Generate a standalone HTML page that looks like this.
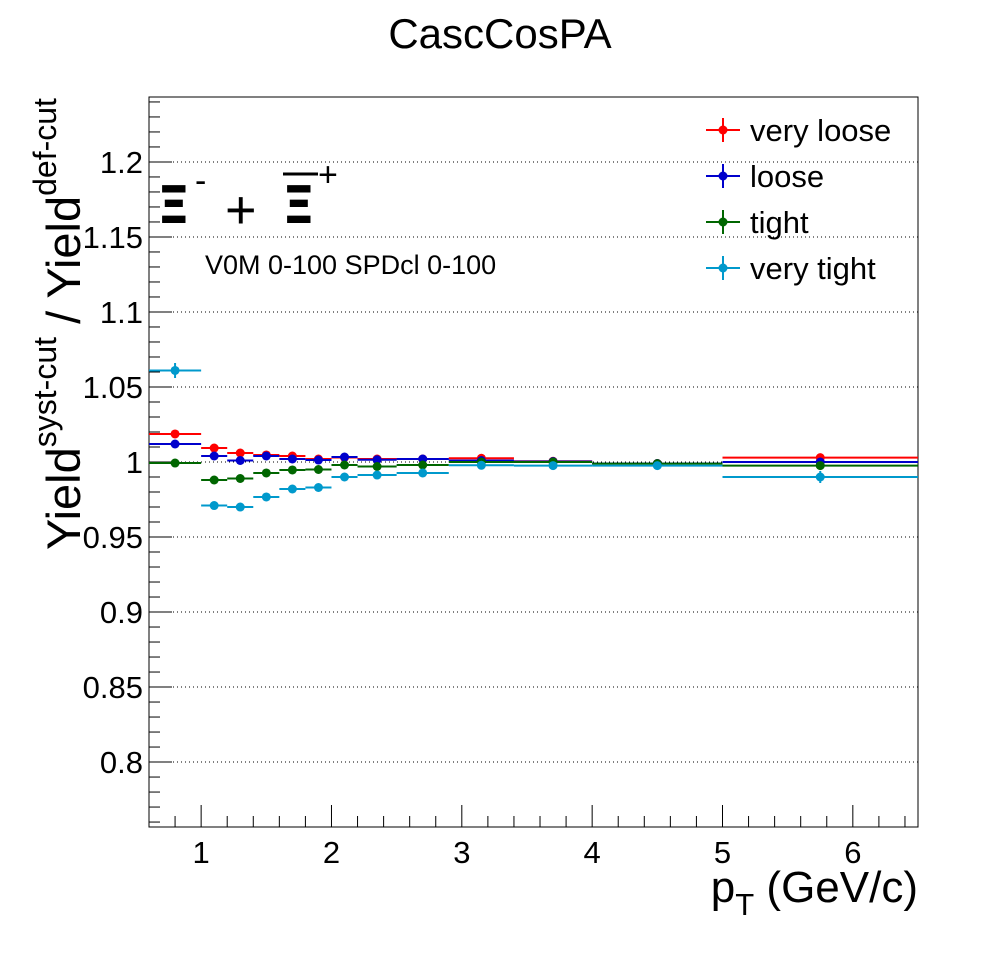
<!DOCTYPE html>
<html><head><meta charset="utf-8"><style>
body{margin:0;background:#fff;}
svg{display:block;font-family:"Liberation Sans",sans-serif;}
</style></head><body>
<svg id="chart" width="998" height="973" viewBox="0 0 998 973">
<rect width="998" height="973" fill="#fff"/>
<text x="500" y="48" font-size="42" text-anchor="middle">CascCosPA</text>
<g id="grid"></g>
<g id="axes"></g>
<g id="marks"></g>
<g transform="translate(80,550) rotate(-90)">
<text x="0" y="0" font-size="47">Yield<tspan font-size="32" dy="-24">syst-cut</tspan><tspan dy="24" font-size="47"> / Yield</tspan><tspan font-size="32" dy="-24">def-cut</tspan></text>
</g>
<text x="918" y="902" font-size="44" text-anchor="end">p<tspan font-size="31" dy="13">T</tspan><tspan dy="-13"> (GeV/c)</tspan></text>
<g font-family="'DejaVu Sans',sans-serif">
<text x="157" y="223" font-size="52" font-weight="bold">Ξ</text>
<text x="195" y="192" font-size="34" font-family="'Liberation Sans',sans-serif">-</text>
<text x="225" y="228" font-size="54" font-family="'Liberation Sans',sans-serif">+</text>
<line x1="283" y1="174" x2="318" y2="174" stroke="#000" stroke-width="3"/>
<text x="282" y="223" font-size="52" font-weight="bold">Ξ</text>
<text x="318" y="186" font-size="34" font-family="'Liberation Sans',sans-serif">+</text>
</g>
<text x="205" y="274" font-size="27">V0M 0-100 SPDcl 0-100</text>
<g id="legend"></g>
</svg>
<script>
const binLo = [0.6,1.0,1.2,1.4,1.6,1.8,2.0,2.2,2.5,2.9,3.4,4.0,5.0];
const binHi = [1.0,1.2,1.4,1.6,1.8,2.0,2.2,2.5,2.9,3.4,4.0,5.0,6.5];
const binCenter = [0.8,1.1,1.3,1.5,1.7,1.9,2.1,2.35,2.7,3.15,3.7,4.5,5.75];
const seriesNames = ["very loose","loose","tight","very tight"];
const seriesColors = ["#ff0000","#0000cc","#006600","#0099cc"];
const veryLoose = [1.0187,1.0093,1.006,1.0047,1.004,1.002,1.003,1.002,1.002,1.0025,1.0005,0.999,1.0029];
const loose = [1.012,1.004,1.001,1.004,1.002,1.0013,1.0033,1.0015,1.002,1.001,1.0003,0.999,1.0];
const tight = [0.9993,0.988,0.989,0.9927,0.9947,0.995,0.998,0.997,0.998,1.0,1.0,0.9989,0.9976];
const veryTight = [1.061,0.971,0.970,0.9767,0.982,0.983,0.990,0.9913,0.9927,0.9978,0.9976,0.9976,0.990];
const errVeryLoose = [0.002,0.0015,0.0015,0.0012,0.0012,0.0012,0.001,0.001,0.001,0.001,0.001,0.001,0.0015];
const errLoose = [0.0015,0.0012,0.0012,0.001,0.001,0.001,0.001,0.001,0.001,0.001,0.001,0.001,0.0015];
const errTight = [0.0012,0.0015,0.0015,0.0015,0.0012,0.0012,0.001,0.001,0.001,0.001,0.001,0.001,0.0015];
const errVeryTight = [0.005,0.0025,0.0025,0.002,0.0015,0.0015,0.0015,0.0012,0.0012,0.0012,0.001,0.001,0.004];
const yTickLabels = ["0.8","0.85","0.9","0.95","1","1.05","1.1","1.15","1.2"];
const xTickLabels = ["1","2","3","4","5","6"];

const NS="http://www.w3.org/2000/svg";
const L=149,R=918,T=97,B=827;
const xMin=0.6,xMax=6.5,yMin=0.7567,yMax=1.2433;
const xs=v=>L+(v-xMin)/(xMax-xMin)*(R-L);
const ys=v=>B-(v-yMin)/(yMax-yMin)*(B-T);
function mk(tag,attrs,parent){const e=document.createElementNS(NS,tag);for(const k in attrs)e.setAttribute(k,attrs[k]);parent.appendChild(e);return e;}
const grid=document.getElementById('grid'),axes=document.getElementById('axes'),marks=document.getElementById('marks'),legend=document.getElementById('legend');

yTickLabels.forEach(t=>{
  const v=parseFloat(t),y=ys(v);
  const g=mk('line',{x1:L,x2:R,y1:y,y2:y,stroke:'#000','stroke-width':1,'stroke-dasharray':'1,3'},grid);
  
  
  const tk=mk('line',{x1:L,x2:L+23,y1:y,y2:y,stroke:'#000','stroke-width':1},axes);
  
  
  const tx=mk('text',{x:L-6,y:y+11,'font-size':31,'text-anchor':'end'},axes);
  tx.textContent=t;
  
  
});
for(let i=76;i<=124;i++){const v=i/100;if(i%5===0)continue;const y=ys(v);
  const tk=mk('line',{x1:L,x2:L+11,y1:y,y2:y,stroke:'#000','stroke-width':1},axes);
  
  }
xTickLabels.forEach(t=>{const v=parseFloat(t),x=xs(v);
  const tk=mk('line',{x1:x,x2:x,y1:B,y2:B-22,stroke:'#000','stroke-width':1},axes);
  
  
  const tx=mk('text',{x:x,y:B+36,'font-size':31,'text-anchor':'middle'},axes);
  tx.textContent=t;
  
  });
for(let i=3;i<=32;i++){const v=i/5;if(i%5===0)continue;const x=xs(v);
  const tk=mk('line',{x1:x,x2:x,y1:B,y2:B-11,stroke:'#000','stroke-width':1},axes);
  
  }
const fr=mk('rect',{x:L,y:T,width:R-L,height:B-T,fill:'none',stroke:'#000','stroke-width':1},axes);



const allVals=[veryLoose,loose,tight,veryTight],allErr=[errVeryLoose,errLoose,errTight,errVeryTight];
allVals.forEach((vals,s)=>{
  const g=mk('g',{},marks);
  
  
  const c=seriesColors[s];
  vals.forEach((v,i)=>{
    const y=ys(v),x=xs(binCenter[i]);
    mk('line',{x1:xs(binLo[i]),x2:xs(binHi[i]),y1:y,y2:y,stroke:c,'stroke-width':2},g);
    mk('line',{x1:x,x2:x,y1:ys(v+allErr[s][i]),y2:ys(v-allErr[s][i]),stroke:c,'stroke-width':2},g);
    const p=mk('circle',{cx:x,cy:y,r:4.5,fill:c},g);
    
    
  });
});
seriesNames.forEach((n,s)=>{
  const y=130+46*s,c=seriesColors[s];
  const g=mk('g',{},legend);
  
  
  mk('line',{x1:706,x2:740,y1:y,y2:y,stroke:c,'stroke-width':2},g);
  mk('line',{x1:723,x2:723,y1:y-12,y2:y+12,stroke:c,'stroke-width':2},g);
  mk('circle',{cx:723,cy:y,r:4.5,fill:c},g);
  const t=mk('text',{x:750,y:y+11,'font-size':31},g);
  t.textContent=n;
});
</script>
</body></html>
